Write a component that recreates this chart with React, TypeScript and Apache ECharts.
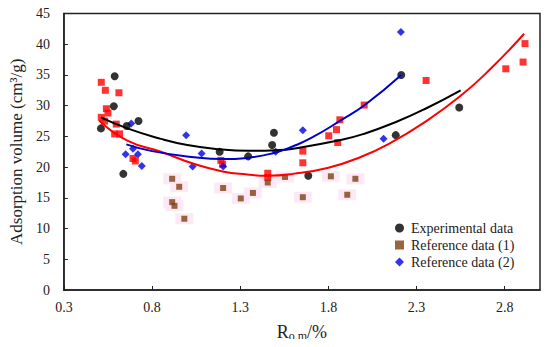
import React, { useEffect, useRef } from "react";
import * as echarts from "echarts";

// Experimental data (black circles)
const experimental: number[][] = [
  [0.51, 26.3], [0.588, 34.8], [0.583, 29.9], [0.723, 27.5], [0.656, 26.7],
  [0.637, 18.9], [1.183, 22.5], [1.345, 21.75], [1.491, 25.6], [1.481, 23.6],
  [1.686, 18.6], [2.182, 25.2], [2.213, 35.0], [2.542, 29.7],
];

// Reference data (1) (brown squares)
const reference1: number[][] = [
  [0.914, 18.1], [0.954, 16.8], [0.914, 14.3], [0.927, 13.7], [0.983, 11.6],
  [1.203, 16.6], [1.303, 14.9], [1.372, 15.8], [1.456, 17.5], [1.554, 18.4],
  [1.655, 15.1], [1.814, 18.5], [1.907, 15.5], [1.953, 18.1],
];

// Reference data (2) (blue diamonds)
const reference2: number[][] = [
  [0.682, 27.1], [0.65, 22.1], [0.692, 23.0], [0.72, 22.1], [0.742, 20.2],
  [0.993, 25.2], [1.03, 20.1], [1.081, 22.2], [1.203, 20.1], [1.501, 22.5],
  [1.655, 26.0], [2.113, 24.6], [2.211, 42.0],
];

// Red squares (no legend entry)
const redSquares: number[][] = [
  [0.512, 33.8], [0.535, 32.5], [0.612, 32.1], [0.541, 29.5], [0.55, 28.8],
  [0.512, 28.1], [0.531, 27.5], [0.597, 27.0], [0.588, 25.4], [0.616, 25.4],
  [0.692, 21.4], [0.705, 21.0], [1.19, 21.1], [1.2, 20.5], [1.456, 19.0],
  [1.456, 18.3], [1.655, 22.6], [1.655, 20.7], [1.802, 25.1], [1.846, 26.1],
  [1.853, 24.0], [1.865, 27.7], [2.003, 30.1], [2.354, 34.1], [2.806, 36.0],
  [2.904, 37.1], [2.915, 40.1],
];

// Trend curves
const blackCurve: number[][] = [
  [0.51, 28.1], [0.66, 26.3], [0.85, 24.6], [1.0, 23.6], [1.18, 22.9],
  [1.35, 22.65], [1.5, 22.75], [1.6, 23.0], [1.87, 24.4], [2.0, 25.4],
  [2.18, 27.3], [2.35, 29.5], [2.55, 32.5],
];
const redCurve: number[][] = [
  [0.5, 27.6], [0.66, 24.3], [0.85, 22.5], [1.04, 20.5], [1.2, 19.3],
  [1.34, 18.8], [1.45, 18.6], [1.6, 18.9], [1.8, 19.9], [1.98, 21.6],
  [2.15, 23.9], [2.34, 27.2], [2.55, 31.6], [2.72, 36.0], [2.91, 41.7],
];
const blueCurve: number[][] = [
  [0.654, 23.7], [0.8, 22.6], [1.04, 21.6], [1.2, 21.3], [1.34, 21.5],
  [1.49, 22.3], [1.6, 23.4], [1.7, 24.7], [1.87, 27.6], [2.01, 30.2],
  [2.213, 35.0],
];

const xTicks = { min: 0.3, max: 3.0, interval: 0.5 };
const yTicks = { min: 0, max: 45, interval: 5 };

const FONT = "'Liberation Serif', 'Times New Roman', serif";

export default function App() {
  const ref = useRef<HTMLDivElement>(null);
  useEffect(() => {
    if (!ref.current) return;
    const chart = echarts.init(ref.current, undefined, { renderer: "svg" });
    chart.setOption({
      animation: false,
      backgroundColor: "#fff",
      textStyle: { fontFamily: FONT },
      grid: {
        left: 62,
        right: 10,
        top: 13.5,
        bottom: 55.5,
        show: true,
        borderColor: "#222",
        borderWidth: 1.5,
      },
      legend: {
        orient: "vertical",
        left: 390,
        top: 216,
        itemGap: 3,
        itemWidth: 9,
        itemHeight: 9,
        data: ["Experimental data", "Reference data (1)", "Reference data (2)"],
        textStyle: { fontFamily: FONT, fontSize: 14, color: "#222", padding: [0, 0, 0, 2] },
      },
      xAxis: {
        type: "value",
        min: xTicks.min,
        max: xTicks.max,
        interval: xTicks.interval,
        splitLine: { show: false },
        axisLine: { lineStyle: { color: "#222", width: 1.5 } },
        axisTick: { inside: true, length: 4, lineStyle: { color: "#222" } },
        axisLabel: {
          showMaxLabel: false,
          margin: 10,
          fontFamily: FONT,
          fontSize: 14,
          color: "#222",
          formatter: (v: number) => v.toFixed(1),
        },
        name: "{r|R}{s|o,m}{r|/%}",
        nameLocation: "middle",
        nameGap: 32,
        nameTextStyle: {
          fontFamily: FONT,
          rich: {
            r: { fontFamily: FONT, fontSize: 18, color: "#222", lineHeight: 20 },
            s: { fontFamily: FONT, fontSize: 12, color: "#222", lineHeight: 12, verticalAlign: "bottom" },
          },
        },
      },
      yAxis: {
        type: "value",
        min: yTicks.min,
        max: yTicks.max,
        interval: yTicks.interval,
        splitLine: { show: false },
        axisLine: { lineStyle: { color: "#222", width: 1.5 } },
        axisTick: { inside: true, length: 4, lineStyle: { color: "#222" } },
        axisLabel: { margin: 14, fontFamily: FONT, fontSize: 14, color: "#222" },
        name: "Adsorption volume (cm³/g)",
        nameLocation: "middle",
        nameGap: 38,
        nameTextStyle: { fontFamily: FONT, fontSize: 17, color: "#222" },
      },
      series: [
        {
          name: "halo",
          type: "scatter",
          data: reference1,
          symbol: "rect",
          symbolSize: [18, 11],
          itemStyle: { color: "#fde4f3" },
          silent: true,
          z: 1,
        },
        {
          name: "red",
          type: "scatter",
          data: redSquares,
          symbol: "rect",
          symbolSize: 7,
          itemStyle: { color: "#ff0000" },
          z: 2,
        },
        {
          name: "Reference data (1)",
          type: "scatter",
          data: reference1,
          symbol: "rect",
          symbolSize: 6,
          itemStyle: { color: "#7e3f12" },
          z: 3,
        },
        {
          name: "Reference data (2)",
          type: "scatter",
          data: reference2,
          symbol: "diamond",
          symbolSize: 8,
          itemStyle: { color: "#0000e6" },
          z: 3,
        },
        {
          name: "Experimental data",
          type: "scatter",
          data: experimental,
          symbol: "circle",
          symbolSize: 8,
          itemStyle: { color: "#000" },
          z: 4,
        },
        {
          name: "fitBlack",
          type: "line",
          data: blackCurve,
          smooth: true,
          showSymbol: false,
          lineStyle: { color: "#000", width: 2 },
          z: 5,
        },
        {
          name: "fitRed",
          type: "line",
          data: redCurve,
          smooth: true,
          showSymbol: false,
          lineStyle: { color: "#ff0000", width: 2 },
          z: 5,
        },
        {
          name: "fitBlue",
          type: "line",
          data: blueCurve,
          smooth: true,
          showSymbol: false,
          lineStyle: { color: "#0000cc", width: 2 },
          z: 5,
        },
      ],
    });
    return () => chart.dispose();
  }, []);
  return <div ref={ref} style={{ width: 550, height: 347, margin: -8 }} />;
}
